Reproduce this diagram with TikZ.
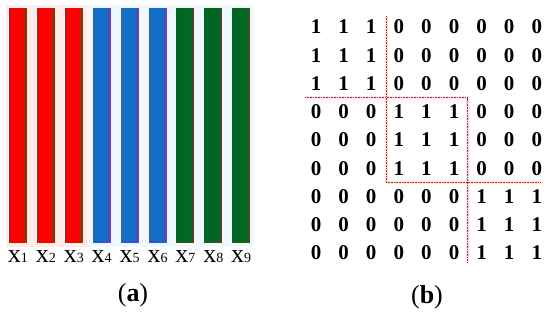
\documentclass[tikz,border=0pt]{standalone}
\usepackage{fontspec}
\setmainfont{Liberation Serif}

\definecolor{barred}{RGB}{255,0,0}
\definecolor{rededge}{RGB}{140,55,20}
\definecolor{barblue}{RGB}{18,110,200}
\definecolor{blueedge}{RGB}{85,75,170}
\definecolor{bargreen}{RGB}{0,102,34}
\definecolor{greenedge}{RGB}{75,70,35}
\definecolor{cutline}{RGB}{160,60,30}
\definecolor{cutglow}{RGB}{255,220,230}

\tikzset{
  entry/.style={font=\fontsize{21}{21}\selectfont\bfseries, inner sep=0pt},
  varlabel/.style={font=\fontsize{26}{26}\selectfont, inner sep=0pt, anchor=base},
  panel/.style={font=\fontsize{26}{26}\selectfont, inner sep=0pt},
  cut/.style={cutline, line width=0.9pt, dash pattern=on 0.8pt off 0.8pt},
  glow/.style={cutglow, line width=3pt},
}

\begin{document}
\begin{tikzpicture}[x=1pt, y=-1pt]
  \useasboundingbox (0,0) rectangle (550,319);

  % (a) the nine columns
  \fill[red!8] (6,5) rectangle (87,247);
  \fill[cyan!7] (87,5) rectangle (254,247);
  \foreach \i/\fc/\ec in {1/barred/rededge, 2/barred/rededge, 3/barred/rededge,
      4/barblue/blueedge, 5/barblue/blueedge, 6/barblue/blueedge,
      7/bargreen/greenedge, 8/bargreen/greenedge, 9/bargreen/greenedge}
  {
    \pgfmathsetmacro\xl{9+27.9*(\i-1)}
    \fill[\fc] (\xl,8) rectangle (\xl+18,243);
    \fill[\ec] (\xl+15,8) rectangle (\xl+18,243);
    \fill[\ec] (\xl,241) rectangle (\xl+18,243);
    \node[varlabel] (x\i) at (\xl+9,262) {x{\fontsize{14}{14}\selectfont\i}};
  }
  \node[panel] (lab-a) at (133,295) {(\textbf{a})};

  % (b) block matrix
  \foreach \row [count=\r] in {{1,1,1,0,0,0,0,0,0}, {1,1,1,0,0,0,0,0,0},
      {1,1,1,0,0,0,0,0,0}, {0,0,0,1,1,1,0,0,0}, {0,0,0,1,1,1,0,0,0},
      {0,0,0,1,1,1,0,0,0}, {0,0,0,0,0,0,1,1,1}, {0,0,0,0,0,0,1,1,1},
      {0,0,0,0,0,0,1,1,1}}
    \foreach \v [count=\c] in \row
      \node[entry] (m\r-\c) at ({316+27.6*(\c-1)}, {27+28.25*(\r-1)}) {\v};

  \coordinate (v1-top) at (386,16);
  \coordinate (v1-bot) at (386,182);
  \coordinate (h1-l) at (305,97.5);
  \coordinate (h1-r) at (467,97.5);
  \coordinate (v2-bot) at (467,263);
  \coordinate (h2-r) at (540,182);

  \draw[glow] (v1-top) -- (v1-bot);
  \draw[glow] (h1-l) -- (h1-r) -- (v2-bot);
  \draw[glow] (v1-bot) -- (h2-r);
  \draw[cut] (v1-top) -- (v1-bot);
  \draw[cut] (h1-l) -- (h1-r) -- (v2-bot);
  \draw[cut] (v1-bot) -- (h2-r);

  \node[panel] (lab-b) at (427,297) {(\textbf{b})};
\end{tikzpicture}
\end{document}
